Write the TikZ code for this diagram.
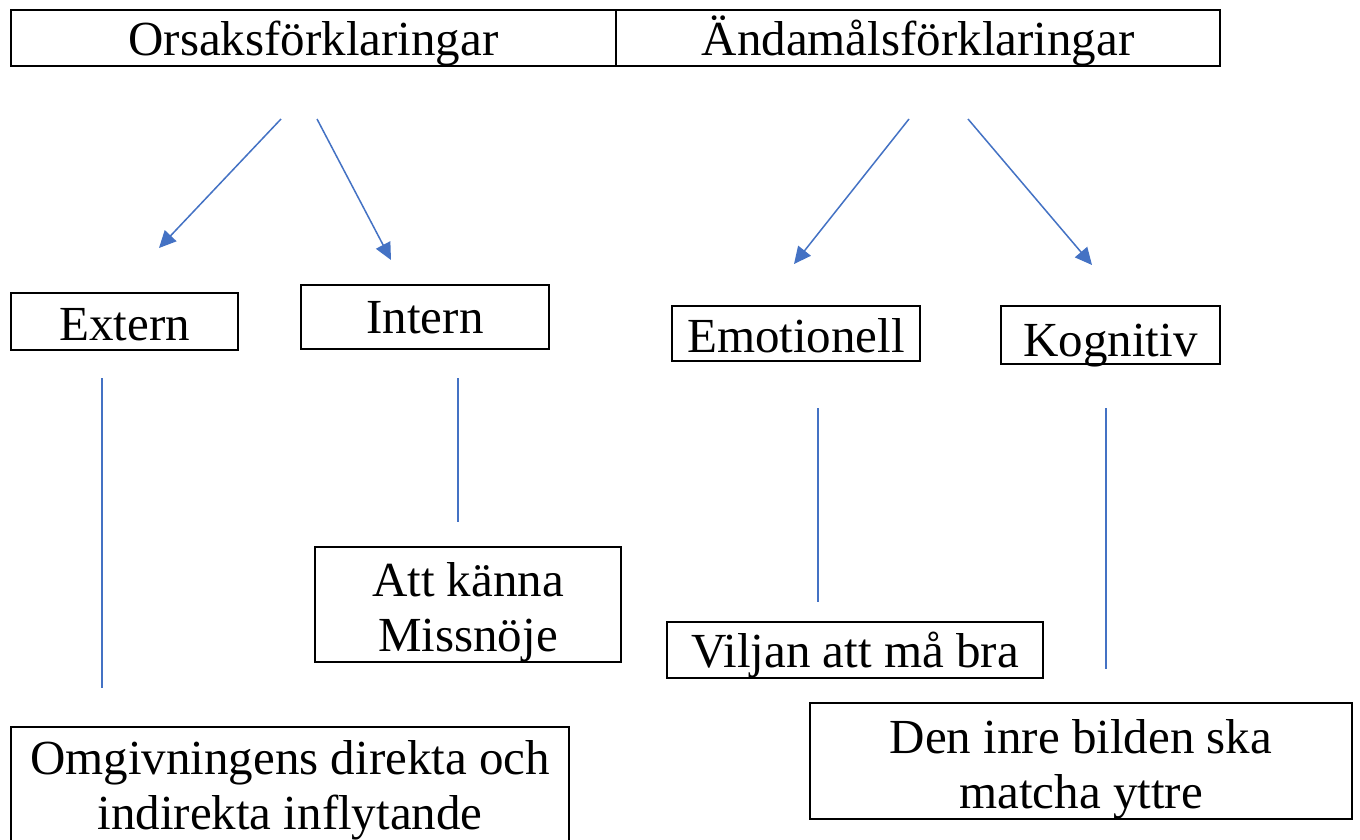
\documentclass[tikz,border=0pt]{standalone}
\usepackage{fontspec}
\setmainfont{Liberation Serif}
\usetikzlibrary{arrows.meta}
\definecolor{linkblue}{HTML}{4472C4}
\tikzset{
  box/.style={draw=black, line width=2pt, inner sep=0pt, font=\fontsize{49}{55}\selectfont},
  onebox/.style={box, anchor=base},
  twobox/.style={box, align=center},
  link/.style={draw=linkblue, line width=1.5pt},
  arrowlink/.style={link, -{Triangle[length=17pt,width=16pt]}}
}
\newcommand{\topstrut}{\rule{0pt}{50pt}}
\begin{document}
\begin{tikzpicture}[x=1pt,y=-1pt]
\clip (0,0) rectangle (1360,839);
\fill[white] (0,0) rectangle (1360,839);

% top row
\node[onebox, minimum width=605pt, text height=45pt, text depth=11pt] (ors) at (313.5,55) {Orsaksförklaringar};
\node[onebox, minimum width=604pt, text height=45pt, text depth=11pt] (and) at (918,55) {Ändamålsförklaringar};

% second row
\node[onebox, minimum width=227pt, text height=47pt, text depth=10pt] (ext) at (124.5,340) {Extern};
\node[onebox, minimum width=248pt, text height=48pt, text depth=16pt] (int) at (425,333) {Intern};
\node[onebox, minimum width=248pt, text height=46pt, text depth=9pt] (emo) at (796,352) {Emotionell};
\node[onebox, minimum width=219pt, text height=50pt, text depth=8pt] (kog) at (1110.5,356) {Kognitiv};

% lower boxes
\node[twobox, minimum width=306pt, minimum height=115pt] (att) at (468,604.5) {\topstrut Att känna\\Missnöje};
\node[onebox, minimum width=376pt, text height=45pt, text depth=11pt] (vil) at (855,667) {Viljan att må bra};
\node[twobox, minimum width=542pt, minimum height=116pt] (den) at (1081,761) {\topstrut Den inre bilden ska\\matcha yttre};
\node[twobox, anchor=north, minimum width=558pt, inner ysep=13pt] (omg) at (290,726) {Omgivningens direkta och\\indirekta inflytande};

% arrow end points
\coordinate (a1s) at (281,119); \coordinate (a1e) at (159,248);
\coordinate (a2s) at (317,119); \coordinate (a2e) at (391,260);
\coordinate (a3s) at (909,119); \coordinate (a3e) at (794,264);
\coordinate (a4s) at (968,119); \coordinate (a4e) at (1092,265);
\draw[arrowlink] (a1s) -- (a1e);
\draw[arrowlink] (a2s) -- (a2e);
\draw[arrowlink] (a3s) -- (a3e);
\draw[arrowlink] (a4s) -- (a4e);

% vertical lines
\coordinate (l1s) at (102,378); \coordinate (l1e) at (102,688);
\coordinate (l2s) at (458,378); \coordinate (l2e) at (458,522);
\coordinate (l3s) at (818,408); \coordinate (l3e) at (818,602);
\coordinate (l4s) at (1106,408); \coordinate (l4e) at (1106,669);
\draw[link] (l1s) -- (l1e);
\draw[link] (l2s) -- (l2e);
\draw[link] (l3s) -- (l3e);
\draw[link] (l4s) -- (l4e);
\end{tikzpicture}
\end{document}
